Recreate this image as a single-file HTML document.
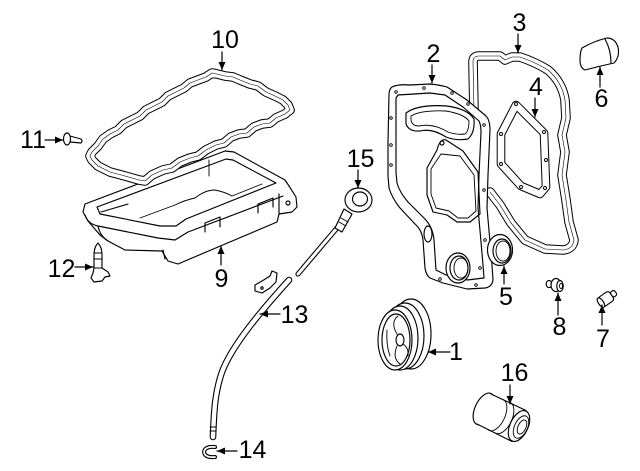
<!DOCTYPE html>
<html><head><meta charset="utf-8">
<style>
html,body{margin:0;padding:0;background:#fff;width:640px;height:471px;overflow:hidden;}
svg{display:block;}
text{font-family:"Liberation Sans",Arial,sans-serif;font-size:25px;fill:#000;text-anchor:middle;}
</style></head><body>
<svg width="640" height="471" viewBox="0 0 640 471" xmlns="http://www.w3.org/2000/svg">
<defs>
<marker id="ah" markerUnits="userSpaceOnUse" markerWidth="9" markerHeight="7" refX="8" refY="3.5" orient="auto"><path d="M0,0 L8,3.5 L0,7 z" fill="#000"/></marker>
</defs>
<g fill="none" stroke="#000" stroke-width="1.15" stroke-linejoin="round" stroke-linecap="round">

<!-- Part 9 oil pan -->
<path fill="#fff" d="M85,204 L225,151 L234,152 L285,180 L289,186 L296,197 L297,207 L292,212 L279,214 L277,222 L218,247 L178,264 L168,261 L162,251 L125,250 L108,241 L100,235 L88,221 L83,212 Z"/>
<path d="M97,207 L226,159 L233,160 L276,183 L186,219 L176,226 L160,226 L100,214 Z"/>
<path d="M85,215 Q88,224 98,226 L158,238 L175,240 L188,232 L283,196"/>
<path d="M98,226 Q100,236 108,241"/>
<path d="M101,212 L128,204"/>
<path d="M140,218 L175,205 Q185,200 195,198 Q205,190 215,190 Q225,192 232,196 L262,184" stroke-width="0.9"/>
<path d="M209,160 L209,176" stroke-width="0.9"/>
<path d="M205,232 L205,223 L220,217 L220,227"/>
<path d="M258,213 L258,204 L273,198 L273,207"/>
<path d="M163,250 L165,259"/>
<path d="M279,214 L279,194"/>
<circle cx="288" cy="203" r="2"/>

<!-- Part 10 gasket -->
<path d="M92,152 L98,146 L103,139 L110,134 L118,130 L124,124 L132,120 L140,116 L146,110 L154,106 L162,102 L168,96 L176,92 L184,88 L190,83 L198,80 L206,77 L212,73 L217,74 L225,76 L233,77 L240,80 L250,84 L258,86 L266,92 L275,96 L283,100 L288,105 L290,110 L285,114 L276,118 L270,123 L262,124 L254,127 L247,133 L239,134 L231,137 L224,143 L216,145 L206,150 L198,156 L190,158 L180,162 L172,168 L163,170 L152,175 L145,181 L139,180 L125,176 L110,172 L98,166 L92,160 L90,156 Z" stroke-width="9.6"/>
<path d="M92,152 L98,146 L103,139 L110,134 L118,130 L124,124 L132,120 L140,116 L146,110 L154,106 L162,102 L168,96 L176,92 L184,88 L190,83 L198,80 L206,77 L212,73 L217,74 L225,76 L233,77 L240,80 L250,84 L258,86 L266,92 L275,96 L283,100 L288,105 L290,110 L285,114 L276,118 L270,123 L262,124 L254,127 L247,133 L239,134 L231,137 L224,143 L216,145 L206,150 L198,156 L190,158 L180,162 L172,168 L163,170 L152,175 L145,181 L139,180 L125,176 L110,172 L98,166 L92,160 L90,156 Z" stroke="#fff" stroke-width="7.6"/>
<path d="M92,152 L98,146 L103,139 L110,134 L118,130 L124,124 L132,120 L140,116 L146,110 L154,106 L162,102 L168,96 L176,92 L184,88 L190,83 L198,80 L206,77 L212,73 L217,74 L225,76 L233,77 L240,80 L250,84 L258,86 L266,92 L275,96 L283,100 L288,105 L290,110 L285,114 L276,118 L270,123 L262,124 L254,127 L247,133 L239,134 L231,137 L224,143 L216,145 L206,150 L198,156 L190,158 L180,162 L172,168 L163,170 L152,175 L145,181 L139,180 L125,176 L110,172 L98,166 L92,160 L90,156 Z" stroke-width="0.6"/>

<!-- Part 11 bolt -->
<path fill="#fff" d="M70,136 L81,139 Q83,141 81,143 L70,142 Z"/>
<ellipse cx="67" cy="139" rx="3.5" ry="6" fill="#fff"/>

<!-- Part 12 stud -->
<path fill="#fff" d="M98,243 Q102,247 102,255 L102,268 L108,272 L110,276 L105,277 L102,281 L94,282 L91,278 L93,273 L94,268 L94,255 Q94,247 98,243 Z"/>
<path d="M94,253 L102,253 M94,259 L102,259 M94,268 L102,268" stroke-width="0.9"/>

<!-- Part 3 gasket -->
<path d="M474,112 L473,62 Q473,56 479,56 L500,56 L505,60 L512,57 L520,57 Q535,62 548,70 Q562,82 565,100 L566,118 L562,135 L565,152 L562,175 L566,200 L569,222 L574,240 Q573,249 563,250 L545,249 L525,240 L511,223 L500,205 L490,192" stroke-width="9.6"/>
<path d="M474,112 L473,62 Q473,56 479,56 L500,56 L505,60 L512,57 L520,57 Q535,62 548,70 Q562,82 565,100 L566,118 L562,135 L565,152 L562,175 L566,200 L569,222 L574,240 Q573,249 563,250 L545,249 L525,240 L511,223 L500,205 L490,192" stroke="#fff" stroke-width="7.6"/>
<path d="M474,112 L473,62 Q473,56 479,56 L500,56 L505,60 L512,57 L520,57 Q535,62 548,70 Q562,82 565,100 L566,118 L562,135 L565,152 L562,175 L566,200 L569,222 L574,240 Q573,249 563,250 L545,249 L525,240 L511,223 L500,205 L490,192" stroke-width="0.6"/>

<!-- Part 4 gasket -->
<path d="M516,105 L544,133 L546,187 L540,194 L521,186 L501,164 L501,134 Z" stroke-width="8.6"/>
<path d="M516,105 L544,133 L546,187 L540,194 L521,186 L501,164 L501,134 Z" stroke="#fff" stroke-width="6.6"/>
<g stroke-width="0.9"><circle cx="516" cy="104" r="1.5"/><circle cx="544" cy="132" r="1.5"/><circle cx="546" cy="160" r="1.5"/><circle cx="545" cy="188" r="1.5"/><circle cx="521" cy="187" r="1.5"/><circle cx="501" cy="164" r="1.5"/><circle cx="501" cy="134" r="1.5"/></g>

<!-- Part 2 timing cover -->
<path fill="#fff" d="M392,87 Q398,84 410,85 L430,84 Q440,85 447,87 L467,100 L486,116 Q490,120 490,130 L488,175 L487,208 L490,242 L492,265 L493,280 Q492,287 485,288 L467,289 L443,283 L430,278 Q426,275 425,268 L423,240 Q422,230 415,224 L400,208 Q392,198 389,188 L388,176 L388,142 L389,95 Q389,89 392,87 Z"/>
<path d="M398,95 L430,93 L445,95 L463,107 L479,121 Q481,125 481,132 L479,175 L478,208 L481,242 L483,265 L484,278 L467,280 L446,275 L436,270 L434,240 Q433,227 424,218 L408,202 Q400,193 397,183 L396,172 L396,142 L396,98 Z"/>
<path d="M406,113 Q418,104 447,106 Q468,109 474,119 Q475,133 468,139 Q456,141 446,137 Q432,128 420,131 Q409,132 406,124 Z"/>
<path d="M411,116 Q421,110 446,111 Q464,114 469,121 Q469,131 465,134 Q456,135 448,132 Q433,123 419,126 Q412,126 411,120 Z" stroke-width="0.9"/>
<path d="M437,150 Q440,138 446,140 L463,151 L478,172 L480,214 L470,222 L457,222 L447,215 L433,212 L427,195 L427,168 Z"/>
<path d="M441,154 L460,156 L474,175 L476,211 L468,218 L458,218 L449,211 L436,208 L431,194 L431,169 Z" stroke-width="0.9"/>
<circle cx="442" cy="143" r="2"/>
<ellipse cx="458" cy="268" rx="12" ry="15" fill="#fff"/>
<ellipse cx="459" cy="268" rx="9" ry="12"/>
<ellipse cx="461" cy="268" rx="7" ry="10" stroke-width="0.9"/>
<ellipse cx="428" cy="234" rx="4" ry="8"/>
<g stroke-width="0.9"><circle cx="396" cy="92" r="1.3"/><circle cx="424" cy="88" r="1.3"/><circle cx="452" cy="93" r="1.3"/><circle cx="468" cy="104" r="1.3"/><circle cx="484" cy="125" r="1.3"/><circle cx="391" cy="118" r="1.3"/><circle cx="391" cy="145" r="1.3"/><circle cx="391" cy="165" r="1.3"/><circle cx="484" cy="190" r="1.3"/><circle cx="485" cy="240" r="1.3"/><circle cx="480" cy="268" r="1.3"/><circle cx="476" cy="285" r="1.3"/><circle cx="440" cy="279" r="1.3"/></g>

<!-- Part 5 seal -->
<ellipse cx="500" cy="250" rx="12.5" ry="15.5" fill="#fff"/>
<ellipse cx="502" cy="251" rx="9" ry="12"/>
<ellipse cx="503" cy="251" rx="7" ry="10" stroke-width="0.9"/>

<!-- Part 6 cap -->
<path fill="#fff" d="M582,48 Q594,41 607,38 Q615,38 618,47 Q620,57 614,63 Q600,66 585,70 Q580,68 580,60 Q580,52 582,48 Z"/>
<path d="M605,39 Q611,50 611,63"/>

<!-- Part 8 bolt -->
<ellipse cx="549" cy="284" rx="2.8" ry="3.6" fill="#fff"/>
<ellipse cx="556" cy="285" rx="5" ry="6.5" fill="#fff"/>
<ellipse cx="560" cy="286" rx="3.2" ry="5.5" fill="#fff"/>
<ellipse cx="561" cy="286" rx="1.5" ry="2.5" stroke-width="0.9"/>

<!-- Part 7 sensor -->
<g transform="rotate(-35 608 297)">
<rect x="598" y="292" width="14" height="11" rx="3" fill="#fff"/>
<rect x="612" y="294.5" width="5" height="6" rx="2" fill="#fff"/>
<ellipse cx="599" cy="297.5" rx="2.5" ry="5.5" fill="#fff"/>
</g>

<!-- Part 1 pulley -->
<ellipse cx="411" cy="334" rx="20" ry="35" fill="#fff"/>
<ellipse cx="405" cy="336" rx="19" ry="33" fill="#fff"/>
<ellipse cx="400" cy="338" rx="18" ry="32" fill="#fff"/>
<ellipse cx="395" cy="340" rx="17" ry="30" fill="#fff"/>
<ellipse cx="396" cy="340" rx="14" ry="26"/>
<ellipse cx="400" cy="340" rx="4" ry="6"/>
<path d="M397,334 Q390,322 398,316 M397,346 Q392,358 400,364 M403,344 Q409,348 408,356 M387,330 Q386,345 390,356" stroke-width="0.9"/>

<!-- Part 16 filter -->
<ellipse cx="484" cy="409" rx="9" ry="17" transform="rotate(25 484 409)" fill="#fff"/>
<path fill="#fff" stroke="none" d="M491,394 L526,410.5 L512,441.5 L477,424 Z"/>
<path d="M491,394 L526,410.5 M477,424 L512,441.5"/>
<path d="M503.2,399.6 A9,17 25 0,1 488.8,430.4" stroke-width="0.9"/>
<path d="M510.2,402.4 A9,17 25 0,1 495.8,433.2" stroke-width="0.9"/>
<ellipse cx="519" cy="426" rx="9" ry="16.5" transform="rotate(25 519 426)" fill="#fff"/>
<ellipse cx="521" cy="427" rx="6.5" ry="12" transform="rotate(25 521 427)" stroke-width="0.9"/>
<ellipse cx="522" cy="427" rx="4" ry="7.5" transform="rotate(25 522 427)" stroke-width="0.9"/>

<!-- Part 15 dipstick -->
<path d="M337,228 L298,274" stroke-width="5.2"/>
<path d="M337,228 L298,274" stroke="#fff" stroke-width="3"/>
<path fill="#fff" d="M344,209 L352,214 L342,232 L335,228 Z"/>
<path d="M339,222 L346,226 M341,218 L348,222" stroke-width="0.9"/>
<ellipse cx="358.5" cy="200" rx="13.5" ry="12" fill="#fff"/>
<ellipse cx="360" cy="199" rx="7.5" ry="7"/>

<!-- Part 13 tube -->
<path fill="#fff" d="M262,281 L270,276 L272,271 L277,273 L276,282 L270,288 L262,293 L255,291 L255,285 Z"/>
<circle cx="262" cy="288" r="1.2"/>
<path d="M289,280 C262,310 232,345 222,372 C215,392 214,410 213,437" stroke-width="6.6"/>
<path d="M289,280 C262,310 232,345 222,372 C215,392 214,410 213,437" stroke="#fff" stroke-width="4.4"/>
<path d="M210,427 L216,427 M210,431 L216,431" stroke-width="0.9"/>

<!-- Part 14 clip -->
<path d="M215,447 Q205,446 204,452 Q205,458 215,457" stroke-width="4"/>
<path d="M215,447 Q205,446 204,452 Q205,458 215,457" stroke="#fff" stroke-width="1.8"/>

<!-- Arrows -->
<g stroke-width="1.2" marker-end="url(#ah)">
<path d="M222,52 L222,70"/>
<path d="M518,34 L518,53"/>
<path d="M432,65 L432,83"/>
<path d="M535,98 L535,117"/>
<path d="M600,87 L600,67"/>
<path d="M45,140 L63,140"/>
<path d="M358,170 L358,188"/>
<path d="M75,267 L93,267"/>
<path d="M221,265 L221,246"/>
<path d="M504,284 L504,266"/>
<path d="M558,315 L558,293"/>
<path d="M602,325 L602,305"/>
<path d="M280,314 L260,314"/>
<path d="M450,352 L428,352"/>
<path d="M237,451 L217,451"/>
<path d="M510,385 L510,404"/>
</g>
</g>

<!-- Labels -->
<text x="225" y="48">10</text>
<text x="519.5" y="31">3</text>
<text x="433.5" y="62">2</text>
<text x="536" y="95">4</text>
<text x="601.5" y="107">6</text>
<text x="33" y="148">11</text>
<text x="360.5" y="167">15</text>
<text x="61.5" y="277">12</text>
<text x="221.5" y="287">9</text>
<text x="506" y="305">5</text>
<text x="559.5" y="335">8</text>
<text x="603" y="347">7</text>
<text x="294.5" y="323">13</text>
<text x="456" y="360">1</text>
<text x="252.5" y="458">14</text>
<text x="514.5" y="381">16</text>
</svg>
</body></html>
